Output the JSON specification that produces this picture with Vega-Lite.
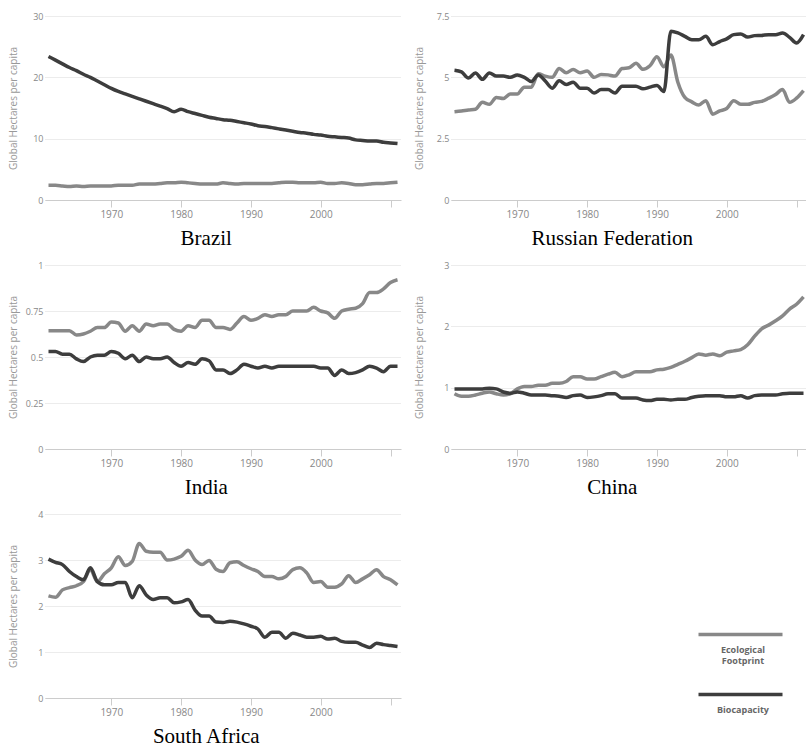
{
"$schema": "https://vega.github.io/schema/vega-lite/v6.json",
"padding": {"left": 8, "top": 12, "right": 0, "bottom": 0},
"background": "white",
"datasets": {"eco": [
{"country":"Brazil","year":1961,"footprint":2.4,"biocapacity":23.4},
{"country":"Brazil","year":1962,"footprint":2.4,"biocapacity":22.8},
{"country":"Brazil","year":1963,"footprint":2.3,"biocapacity":22.2},
{"country":"Brazil","year":1964,"footprint":2.2,"biocapacity":21.6},
{"country":"Brazil","year":1965,"footprint":2.3,"biocapacity":21.1},
{"country":"Brazil","year":1966,"footprint":2.2,"biocapacity":20.5},
{"country":"Brazil","year":1967,"footprint":2.3,"biocapacity":20.0},
{"country":"Brazil","year":1968,"footprint":2.3,"biocapacity":19.4},
{"country":"Brazil","year":1969,"footprint":2.3,"biocapacity":18.8},
{"country":"Brazil","year":1970,"footprint":2.3,"biocapacity":18.2},
{"country":"Brazil","year":1971,"footprint":2.4,"biocapacity":17.7},
{"country":"Brazil","year":1972,"footprint":2.4,"biocapacity":17.3},
{"country":"Brazil","year":1973,"footprint":2.4,"biocapacity":16.9},
{"country":"Brazil","year":1974,"footprint":2.6,"biocapacity":16.5},
{"country":"Brazil","year":1975,"footprint":2.6,"biocapacity":16.1},
{"country":"Brazil","year":1976,"footprint":2.6,"biocapacity":15.7},
{"country":"Brazil","year":1977,"footprint":2.7,"biocapacity":15.3},
{"country":"Brazil","year":1978,"footprint":2.8,"biocapacity":14.9},
{"country":"Brazil","year":1979,"footprint":2.8,"biocapacity":14.4},
{"country":"Brazil","year":1980,"footprint":2.9,"biocapacity":14.8},
{"country":"Brazil","year":1981,"footprint":2.8,"biocapacity":14.4},
{"country":"Brazil","year":1982,"footprint":2.7,"biocapacity":14.1},
{"country":"Brazil","year":1983,"footprint":2.6,"biocapacity":13.8},
{"country":"Brazil","year":1984,"footprint":2.6,"biocapacity":13.5},
{"country":"Brazil","year":1985,"footprint":2.6,"biocapacity":13.3},
{"country":"Brazil","year":1986,"footprint":2.8,"biocapacity":13.1},
{"country":"Brazil","year":1987,"footprint":2.7,"biocapacity":13.0},
{"country":"Brazil","year":1988,"footprint":2.6,"biocapacity":12.8},
{"country":"Brazil","year":1989,"footprint":2.7,"biocapacity":12.6},
{"country":"Brazil","year":1990,"footprint":2.7,"biocapacity":12.4},
{"country":"Brazil","year":1991,"footprint":2.7,"biocapacity":12.1},
{"country":"Brazil","year":1992,"footprint":2.7,"biocapacity":12.0},
{"country":"Brazil","year":1993,"footprint":2.7,"biocapacity":11.8},
{"country":"Brazil","year":1994,"footprint":2.8,"biocapacity":11.6},
{"country":"Brazil","year":1995,"footprint":2.9,"biocapacity":11.4},
{"country":"Brazil","year":1996,"footprint":2.9,"biocapacity":11.2},
{"country":"Brazil","year":1997,"footprint":2.8,"biocapacity":11.0},
{"country":"Brazil","year":1998,"footprint":2.8,"biocapacity":10.9},
{"country":"Brazil","year":1999,"footprint":2.8,"biocapacity":10.7},
{"country":"Brazil","year":2000,"footprint":2.9,"biocapacity":10.6},
{"country":"Brazil","year":2001,"footprint":2.7,"biocapacity":10.4},
{"country":"Brazil","year":2002,"footprint":2.7,"biocapacity":10.3},
{"country":"Brazil","year":2003,"footprint":2.8,"biocapacity":10.2},
{"country":"Brazil","year":2004,"footprint":2.7,"biocapacity":10.1},
{"country":"Brazil","year":2005,"footprint":2.5,"biocapacity":9.8},
{"country":"Brazil","year":2006,"footprint":2.5,"biocapacity":9.7},
{"country":"Brazil","year":2007,"footprint":2.6,"biocapacity":9.6},
{"country":"Brazil","year":2008,"footprint":2.7,"biocapacity":9.6},
{"country":"Brazil","year":2009,"footprint":2.7,"biocapacity":9.4},
{"country":"Brazil","year":2010,"footprint":2.8,"biocapacity":9.3},
{"country":"Brazil","year":2011,"footprint":2.9,"biocapacity":9.2},
{"country":"Russian Federation","year":1961,"footprint":3.6,"biocapacity":5.29},
{"country":"Russian Federation","year":1962,"footprint":3.63,"biocapacity":5.22},
{"country":"Russian Federation","year":1963,"footprint":3.67,"biocapacity":4.97},
{"country":"Russian Federation","year":1964,"footprint":3.7,"biocapacity":5.18},
{"country":"Russian Federation","year":1965,"footprint":3.98,"biocapacity":4.92},
{"country":"Russian Federation","year":1966,"footprint":3.9,"biocapacity":5.18},
{"country":"Russian Federation","year":1967,"footprint":4.18,"biocapacity":5.05},
{"country":"Russian Federation","year":1968,"footprint":4.14,"biocapacity":5.05},
{"country":"Russian Federation","year":1969,"footprint":4.32,"biocapacity":5.0},
{"country":"Russian Federation","year":1970,"footprint":4.32,"biocapacity":5.1},
{"country":"Russian Federation","year":1971,"footprint":4.6,"biocapacity":5.0},
{"country":"Russian Federation","year":1972,"footprint":4.6,"biocapacity":4.83},
{"country":"Russian Federation","year":1973,"footprint":5.15,"biocapacity":5.1},
{"country":"Russian Federation","year":1974,"footprint":5.05,"biocapacity":4.85},
{"country":"Russian Federation","year":1975,"footprint":5.0,"biocapacity":4.56},
{"country":"Russian Federation","year":1976,"footprint":5.36,"biocapacity":4.86},
{"country":"Russian Federation","year":1977,"footprint":5.19,"biocapacity":4.71},
{"country":"Russian Federation","year":1978,"footprint":5.32,"biocapacity":4.8},
{"country":"Russian Federation","year":1979,"footprint":5.19,"biocapacity":4.56},
{"country":"Russian Federation","year":1980,"footprint":5.26,"biocapacity":4.56},
{"country":"Russian Federation","year":1981,"footprint":5.0,"biocapacity":4.36},
{"country":"Russian Federation","year":1982,"footprint":5.12,"biocapacity":4.5},
{"country":"Russian Federation","year":1983,"footprint":5.1,"biocapacity":4.5},
{"country":"Russian Federation","year":1984,"footprint":5.05,"biocapacity":4.36},
{"country":"Russian Federation","year":1985,"footprint":5.36,"biocapacity":4.64},
{"country":"Russian Federation","year":1986,"footprint":5.39,"biocapacity":4.64},
{"country":"Russian Federation","year":1987,"footprint":5.57,"biocapacity":4.64},
{"country":"Russian Federation","year":1988,"footprint":5.33,"biocapacity":4.53},
{"country":"Russian Federation","year":1989,"footprint":5.47,"biocapacity":4.6},
{"country":"Russian Federation","year":1990,"footprint":5.84,"biocapacity":4.67},
{"country":"Russian Federation","year":1991,"footprint":5.43,"biocapacity":4.42},
{"country":"Russian Federation","year":1992,"footprint":5.91,"biocapacity":6.88},
{"country":"Russian Federation","year":1993,"footprint":4.8,"biocapacity":6.81},
{"country":"Russian Federation","year":1994,"footprint":4.18,"biocapacity":6.67},
{"country":"Russian Federation","year":1995,"footprint":4.0,"biocapacity":6.53},
{"country":"Russian Federation","year":1996,"footprint":3.87,"biocapacity":6.53},
{"country":"Russian Federation","year":1997,"footprint":4.05,"biocapacity":6.67},
{"country":"Russian Federation","year":1998,"footprint":3.5,"biocapacity":6.33},
{"country":"Russian Federation","year":1999,"footprint":3.63,"biocapacity":6.46},
{"country":"Russian Federation","year":2000,"footprint":3.73,"biocapacity":6.57},
{"country":"Russian Federation","year":2001,"footprint":4.05,"biocapacity":6.74},
{"country":"Russian Federation","year":2002,"footprint":3.9,"biocapacity":6.77},
{"country":"Russian Federation","year":2003,"footprint":3.9,"biocapacity":6.64},
{"country":"Russian Federation","year":2004,"footprint":3.98,"biocapacity":6.7},
{"country":"Russian Federation","year":2005,"footprint":4.02,"biocapacity":6.71},
{"country":"Russian Federation","year":2006,"footprint":4.15,"biocapacity":6.74},
{"country":"Russian Federation","year":2007,"footprint":4.3,"biocapacity":6.74},
{"country":"Russian Federation","year":2008,"footprint":4.5,"biocapacity":6.81},
{"country":"Russian Federation","year":2009,"footprint":3.98,"biocapacity":6.63},
{"country":"Russian Federation","year":2010,"footprint":4.15,"biocapacity":6.4},
{"country":"Russian Federation","year":2011,"footprint":4.46,"biocapacity":6.74},
{"country":"India","year":1961,"footprint":0.643,"biocapacity":0.53},
{"country":"India","year":1962,"footprint":0.643,"biocapacity":0.53},
{"country":"India","year":1963,"footprint":0.643,"biocapacity":0.515},
{"country":"India","year":1964,"footprint":0.643,"biocapacity":0.515},
{"country":"India","year":1965,"footprint":0.62,"biocapacity":0.49},
{"country":"India","year":1966,"footprint":0.625,"biocapacity":0.475},
{"country":"India","year":1967,"footprint":0.64,"biocapacity":0.5},
{"country":"India","year":1968,"footprint":0.66,"biocapacity":0.51},
{"country":"India","year":1969,"footprint":0.66,"biocapacity":0.51},
{"country":"India","year":1970,"footprint":0.69,"biocapacity":0.53},
{"country":"India","year":1971,"footprint":0.685,"biocapacity":0.52},
{"country":"India","year":1972,"footprint":0.64,"biocapacity":0.49},
{"country":"India","year":1973,"footprint":0.67,"biocapacity":0.51},
{"country":"India","year":1974,"footprint":0.64,"biocapacity":0.475},
{"country":"India","year":1975,"footprint":0.68,"biocapacity":0.5},
{"country":"India","year":1976,"footprint":0.67,"biocapacity":0.49},
{"country":"India","year":1977,"footprint":0.68,"biocapacity":0.49},
{"country":"India","year":1978,"footprint":0.68,"biocapacity":0.5},
{"country":"India","year":1979,"footprint":0.65,"biocapacity":0.47},
{"country":"India","year":1980,"footprint":0.64,"biocapacity":0.45},
{"country":"India","year":1981,"footprint":0.67,"biocapacity":0.47},
{"country":"India","year":1982,"footprint":0.66,"biocapacity":0.46},
{"country":"India","year":1983,"footprint":0.7,"biocapacity":0.49},
{"country":"India","year":1984,"footprint":0.7,"biocapacity":0.48},
{"country":"India","year":1985,"footprint":0.66,"biocapacity":0.43},
{"country":"India","year":1986,"footprint":0.66,"biocapacity":0.43},
{"country":"India","year":1987,"footprint":0.65,"biocapacity":0.41},
{"country":"India","year":1988,"footprint":0.685,"biocapacity":0.43},
{"country":"India","year":1989,"footprint":0.72,"biocapacity":0.46},
{"country":"India","year":1990,"footprint":0.7,"biocapacity":0.45},
{"country":"India","year":1991,"footprint":0.71,"biocapacity":0.44},
{"country":"India","year":1992,"footprint":0.73,"biocapacity":0.45},
{"country":"India","year":1993,"footprint":0.72,"biocapacity":0.44},
{"country":"India","year":1994,"footprint":0.73,"biocapacity":0.45},
{"country":"India","year":1995,"footprint":0.73,"biocapacity":0.45},
{"country":"India","year":1996,"footprint":0.75,"biocapacity":0.45},
{"country":"India","year":1997,"footprint":0.75,"biocapacity":0.45},
{"country":"India","year":1998,"footprint":0.75,"biocapacity":0.45},
{"country":"India","year":1999,"footprint":0.77,"biocapacity":0.45},
{"country":"India","year":2000,"footprint":0.75,"biocapacity":0.44},
{"country":"India","year":2001,"footprint":0.74,"biocapacity":0.44},
{"country":"India","year":2002,"footprint":0.71,"biocapacity":0.4},
{"country":"India","year":2003,"footprint":0.75,"biocapacity":0.43},
{"country":"India","year":2004,"footprint":0.76,"biocapacity":0.41},
{"country":"India","year":2005,"footprint":0.765,"biocapacity":0.415},
{"country":"India","year":2006,"footprint":0.79,"biocapacity":0.43},
{"country":"India","year":2007,"footprint":0.85,"biocapacity":0.45},
{"country":"India","year":2008,"footprint":0.85,"biocapacity":0.44},
{"country":"India","year":2009,"footprint":0.87,"biocapacity":0.42},
{"country":"India","year":2010,"footprint":0.905,"biocapacity":0.45},
{"country":"India","year":2011,"footprint":0.92,"biocapacity":0.45},
{"country":"China","year":1961,"footprint":0.9,"biocapacity":0.98},
{"country":"China","year":1962,"footprint":0.86,"biocapacity":0.98},
{"country":"China","year":1963,"footprint":0.86,"biocapacity":0.98},
{"country":"China","year":1964,"footprint":0.88,"biocapacity":0.98},
{"country":"China","year":1965,"footprint":0.91,"biocapacity":0.98},
{"country":"China","year":1966,"footprint":0.93,"biocapacity":0.99},
{"country":"China","year":1967,"footprint":0.9,"biocapacity":0.98},
{"country":"China","year":1968,"footprint":0.88,"biocapacity":0.93},
{"country":"China","year":1969,"footprint":0.9,"biocapacity":0.91},
{"country":"China","year":1970,"footprint":0.98,"biocapacity":0.93},
{"country":"China","year":1971,"footprint":1.02,"biocapacity":0.91},
{"country":"China","year":1972,"footprint":1.02,"biocapacity":0.88},
{"country":"China","year":1973,"footprint":1.04,"biocapacity":0.88},
{"country":"China","year":1974,"footprint":1.04,"biocapacity":0.88},
{"country":"China","year":1975,"footprint":1.07,"biocapacity":0.87},
{"country":"China","year":1976,"footprint":1.07,"biocapacity":0.86},
{"country":"China","year":1977,"footprint":1.1,"biocapacity":0.84},
{"country":"China","year":1978,"footprint":1.18,"biocapacity":0.87},
{"country":"China","year":1979,"footprint":1.18,"biocapacity":0.88},
{"country":"China","year":1980,"footprint":1.14,"biocapacity":0.84},
{"country":"China","year":1981,"footprint":1.14,"biocapacity":0.85},
{"country":"China","year":1982,"footprint":1.18,"biocapacity":0.87},
{"country":"China","year":1983,"footprint":1.22,"biocapacity":0.9},
{"country":"China","year":1984,"footprint":1.25,"biocapacity":0.9},
{"country":"China","year":1985,"footprint":1.18,"biocapacity":0.83},
{"country":"China","year":1986,"footprint":1.21,"biocapacity":0.83},
{"country":"China","year":1987,"footprint":1.26,"biocapacity":0.83},
{"country":"China","year":1988,"footprint":1.26,"biocapacity":0.8},
{"country":"China","year":1989,"footprint":1.26,"biocapacity":0.79},
{"country":"China","year":1990,"footprint":1.29,"biocapacity":0.81},
{"country":"China","year":1991,"footprint":1.3,"biocapacity":0.81},
{"country":"China","year":1992,"footprint":1.33,"biocapacity":0.8},
{"country":"China","year":1993,"footprint":1.38,"biocapacity":0.81},
{"country":"China","year":1994,"footprint":1.43,"biocapacity":0.81},
{"country":"China","year":1995,"footprint":1.49,"biocapacity":0.84},
{"country":"China","year":1996,"footprint":1.55,"biocapacity":0.86},
{"country":"China","year":1997,"footprint":1.53,"biocapacity":0.87},
{"country":"China","year":1998,"footprint":1.55,"biocapacity":0.87},
{"country":"China","year":1999,"footprint":1.52,"biocapacity":0.87},
{"country":"China","year":2000,"footprint":1.58,"biocapacity":0.85},
{"country":"China","year":2001,"footprint":1.6,"biocapacity":0.85},
{"country":"China","year":2002,"footprint":1.62,"biocapacity":0.87},
{"country":"China","year":2003,"footprint":1.7,"biocapacity":0.83},
{"country":"China","year":2004,"footprint":1.84,"biocapacity":0.87},
{"country":"China","year":2005,"footprint":1.96,"biocapacity":0.88},
{"country":"China","year":2006,"footprint":2.02,"biocapacity":0.88},
{"country":"China","year":2007,"footprint":2.09,"biocapacity":0.88},
{"country":"China","year":2008,"footprint":2.17,"biocapacity":0.9},
{"country":"China","year":2009,"footprint":2.28,"biocapacity":0.91},
{"country":"China","year":2010,"footprint":2.36,"biocapacity":0.91},
{"country":"China","year":2011,"footprint":2.48,"biocapacity":0.91},
{"country":"South Africa","year":1961,"footprint":2.22,"biocapacity":3.02},
{"country":"South Africa","year":1962,"footprint":2.19,"biocapacity":2.95},
{"country":"South Africa","year":1963,"footprint":2.35,"biocapacity":2.9},
{"country":"South Africa","year":1964,"footprint":2.4,"biocapacity":2.75},
{"country":"South Africa","year":1965,"footprint":2.44,"biocapacity":2.64},
{"country":"South Africa","year":1966,"footprint":2.53,"biocapacity":2.57},
{"country":"South Africa","year":1967,"footprint":2.79,"biocapacity":2.83},
{"country":"South Africa","year":1968,"footprint":2.53,"biocapacity":2.53},
{"country":"South Africa","year":1969,"footprint":2.7,"biocapacity":2.46},
{"country":"South Africa","year":1970,"footprint":2.83,"biocapacity":2.46},
{"country":"South Africa","year":1971,"footprint":3.07,"biocapacity":2.51},
{"country":"South Africa","year":1972,"footprint":2.88,"biocapacity":2.51},
{"country":"South Africa","year":1973,"footprint":2.97,"biocapacity":2.18},
{"country":"South Africa","year":1974,"footprint":3.36,"biocapacity":2.44},
{"country":"South Africa","year":1975,"footprint":3.19,"biocapacity":2.24},
{"country":"South Africa","year":1976,"footprint":3.17,"biocapacity":2.14},
{"country":"South Africa","year":1977,"footprint":3.17,"biocapacity":2.18},
{"country":"South Africa","year":1978,"footprint":3.0,"biocapacity":2.18},
{"country":"South Africa","year":1979,"footprint":3.02,"biocapacity":2.07},
{"country":"South Africa","year":1980,"footprint":3.08,"biocapacity":2.09},
{"country":"South Africa","year":1981,"footprint":3.21,"biocapacity":2.14},
{"country":"South Africa","year":1982,"footprint":3.0,"biocapacity":1.91},
{"country":"South Africa","year":1983,"footprint":2.9,"biocapacity":1.78},
{"country":"South Africa","year":1984,"footprint":2.99,"biocapacity":1.78},
{"country":"South Africa","year":1985,"footprint":2.8,"biocapacity":1.65},
{"country":"South Africa","year":1986,"footprint":2.75,"biocapacity":1.64},
{"country":"South Africa","year":1987,"footprint":2.94,"biocapacity":1.67},
{"country":"South Africa","year":1988,"footprint":2.96,"biocapacity":1.65},
{"country":"South Africa","year":1989,"footprint":2.88,"biocapacity":1.61},
{"country":"South Africa","year":1990,"footprint":2.81,"biocapacity":1.56},
{"country":"South Africa","year":1991,"footprint":2.75,"biocapacity":1.5},
{"country":"South Africa","year":1992,"footprint":2.64,"biocapacity":1.32},
{"country":"South Africa","year":1993,"footprint":2.64,"biocapacity":1.43},
{"country":"South Africa","year":1994,"footprint":2.59,"biocapacity":1.43},
{"country":"South Africa","year":1995,"footprint":2.64,"biocapacity":1.3},
{"country":"South Africa","year":1996,"footprint":2.79,"biocapacity":1.41},
{"country":"South Africa","year":1997,"footprint":2.83,"biocapacity":1.37},
{"country":"South Africa","year":1998,"footprint":2.72,"biocapacity":1.32},
{"country":"South Africa","year":1999,"footprint":2.51,"biocapacity":1.32},
{"country":"South Africa","year":2000,"footprint":2.53,"biocapacity":1.34},
{"country":"South Africa","year":2001,"footprint":2.41,"biocapacity":1.28},
{"country":"South Africa","year":2002,"footprint":2.41,"biocapacity":1.3},
{"country":"South Africa","year":2003,"footprint":2.48,"biocapacity":1.23},
{"country":"South Africa","year":2004,"footprint":2.66,"biocapacity":1.21},
{"country":"South Africa","year":2005,"footprint":2.51,"biocapacity":1.21},
{"country":"South Africa","year":2006,"footprint":2.59,"biocapacity":1.15},
{"country":"South Africa","year":2007,"footprint":2.68,"biocapacity":1.1},
{"country":"South Africa","year":2008,"footprint":2.79,"biocapacity":1.19},
{"country":"South Africa","year":2009,"footprint":2.64,"biocapacity":1.16},
{"country":"South Africa","year":2010,"footprint":2.57,"biocapacity":1.14},
{"country":"South Africa","year":2011,"footprint":2.46,"biocapacity":1.12}
]},
"config": {
  "view": {"stroke": null},
  "font": "Open Sans",
  "title": {"orient": "bottom", "font": "Liberation Serif", "fontSize": 21, "fontWeight": "normal", "color": "#000000", "anchor": "middle", "frame": "bounds", "offset": 9},
  "axisX": {"grid": false, "domainColor": "#cccccc", "tickColor": "#cccccc", "tickSize": 7, "labelColor": "#888888", "labelFontSize": 10, "labelPadding": 2, "title": null},
  "axisY": {"grid": true, "gridColor": "#d8d8d8", "gridDash": [1, 1], "domain": false, "ticks": false, "labelColor": "#888888", "labelFontSize": 9, "labelPadding": 2, "titleColor": "#999999", "titleFontSize": 10, "titleFontWeight": "normal", "titleX": -27},
  "line": {"strokeWidth": 3.5, "interpolate": "monotone"}
},
"columns": 2,
"spacing": {"row": 12, "column": 9},
"resolve": {"scale": {"y": "independent", "x": "independent", "color": "shared"}, "legend": {"color": "shared"}},
"concat": [
 {"title": "Brazil", "width": 356, "height": 184, "data": {"name": "eco"},
  "transform": [{"filter": "datum.country === 'Brazil'"}, {"fold": ["footprint", "biocapacity"], "as": ["series", "value"]}],
  "mark": "line",
  "encoding": {
   "x": {"field": "year", "type": "quantitative", "scale": {"domain": [1960.5, 2011.5], "nice": false, "zero": false}, "axis": {"values": [1970, 1980, 1990, 2000, 2010], "labelExpr": "datum.value == 2010 ? '' : datum.value + ''"}},
   "y": {"field": "value", "type": "quantitative", "scale": {"domain": [0, 30], "nice": false}, "axis": {"values": [0, 10, 20, 30], "labelExpr": "datum.value + ''", "title": "Global Hectares per capita"}},
   "color": {"field": "series", "type": "nominal", "scale": {"domain": ["footprint", "biocapacity"], "range": ["#888888", "#3d3d3d"]},
     "legend": {"orient": "none", "legendX": 691, "legendY": 614, "title": null, "symbolType": "M-21,0H21", "symbolSize": 16, "symbolStrokeWidth": 4, "symbolFillColor": "transparent", "labelAlign": "center", "labelOffset": -2, "labelBaseline": "top", "labelColor": "#666666", "labelFontSize": 9, "labelFontWeight": "bold", "labelFont": "Open Sans", "rowPadding": 21, "padding": 0,
       "labelExpr": "datum.value == 'footprint' ? ['', 'Ecological', 'Footprint'] : ['', 'Biocapacity']"}}
  }},
 {"title": "Russian Federation", "width": 356, "height": 184, "data": {"name": "eco"},
  "transform": [{"filter": "datum.country === 'Russian Federation'"}, {"fold": ["footprint", "biocapacity"], "as": ["series", "value"]}],
  "mark": "line",
  "encoding": {
   "x": {"field": "year", "type": "quantitative", "scale": {"domain": [1960.5, 2011.5], "nice": false, "zero": false}, "axis": {"values": [1970, 1980, 1990, 2000, 2010], "labelExpr": "datum.value == 2010 ? '' : datum.value + ''"}},
   "y": {"field": "value", "type": "quantitative", "scale": {"domain": [0, 7.5], "nice": false}, "axis": {"values": [0, 2.5, 5, 7.5], "labelExpr": "datum.value + ''", "title": "Global Hectares per capita"}},
   "color": {"field": "series", "type": "nominal"}
  }},
 {"title": "India", "width": 356, "height": 184, "data": {"name": "eco"},
  "transform": [{"filter": "datum.country === 'India'"}, {"fold": ["footprint", "biocapacity"], "as": ["series", "value"]}],
  "mark": "line",
  "encoding": {
   "x": {"field": "year", "type": "quantitative", "scale": {"domain": [1960.5, 2011.5], "nice": false, "zero": false}, "axis": {"values": [1970, 1980, 1990, 2000, 2010], "labelExpr": "datum.value == 2010 ? '' : datum.value + ''"}},
   "y": {"field": "value", "type": "quantitative", "scale": {"domain": [0, 1], "nice": false}, "axis": {"values": [0, 0.25, 0.5, 0.75, 1], "labelExpr": "datum.value + ''", "title": "Global Hectares per capita"}},
   "color": {"field": "series", "type": "nominal"}
  }},
 {"title": "China", "width": 356, "height": 184, "data": {"name": "eco"},
  "transform": [{"filter": "datum.country === 'China'"}, {"fold": ["footprint", "biocapacity"], "as": ["series", "value"]}],
  "mark": "line",
  "encoding": {
   "x": {"field": "year", "type": "quantitative", "scale": {"domain": [1960.5, 2011.5], "nice": false, "zero": false}, "axis": {"values": [1970, 1980, 1990, 2000, 2010], "labelExpr": "datum.value == 2010 ? '' : datum.value + ''"}},
   "y": {"field": "value", "type": "quantitative", "scale": {"domain": [0, 3], "nice": false}, "axis": {"values": [0, 1, 2, 3], "labelExpr": "datum.value + ''", "title": "Global Hectares per capita"}},
   "color": {"field": "series", "type": "nominal"}
  }},
 {"title": "South Africa", "width": 356, "height": 184, "data": {"name": "eco"},
  "transform": [{"filter": "datum.country === 'South Africa'"}, {"fold": ["footprint", "biocapacity"], "as": ["series", "value"]}],
  "mark": "line",
  "encoding": {
   "x": {"field": "year", "type": "quantitative", "scale": {"domain": [1960.5, 2011.5], "nice": false, "zero": false}, "axis": {"values": [1970, 1980, 1990, 2000, 2010], "labelExpr": "datum.value == 2010 ? '' : datum.value + ''"}},
   "y": {"field": "value", "type": "quantitative", "scale": {"domain": [0, 4], "nice": false}, "axis": {"values": [0, 1, 2, 3, 4], "labelExpr": "datum.value + ''", "title": "Global Hectares per capita"}},
   "color": {"field": "series", "type": "nominal"}
  }}
]
}
